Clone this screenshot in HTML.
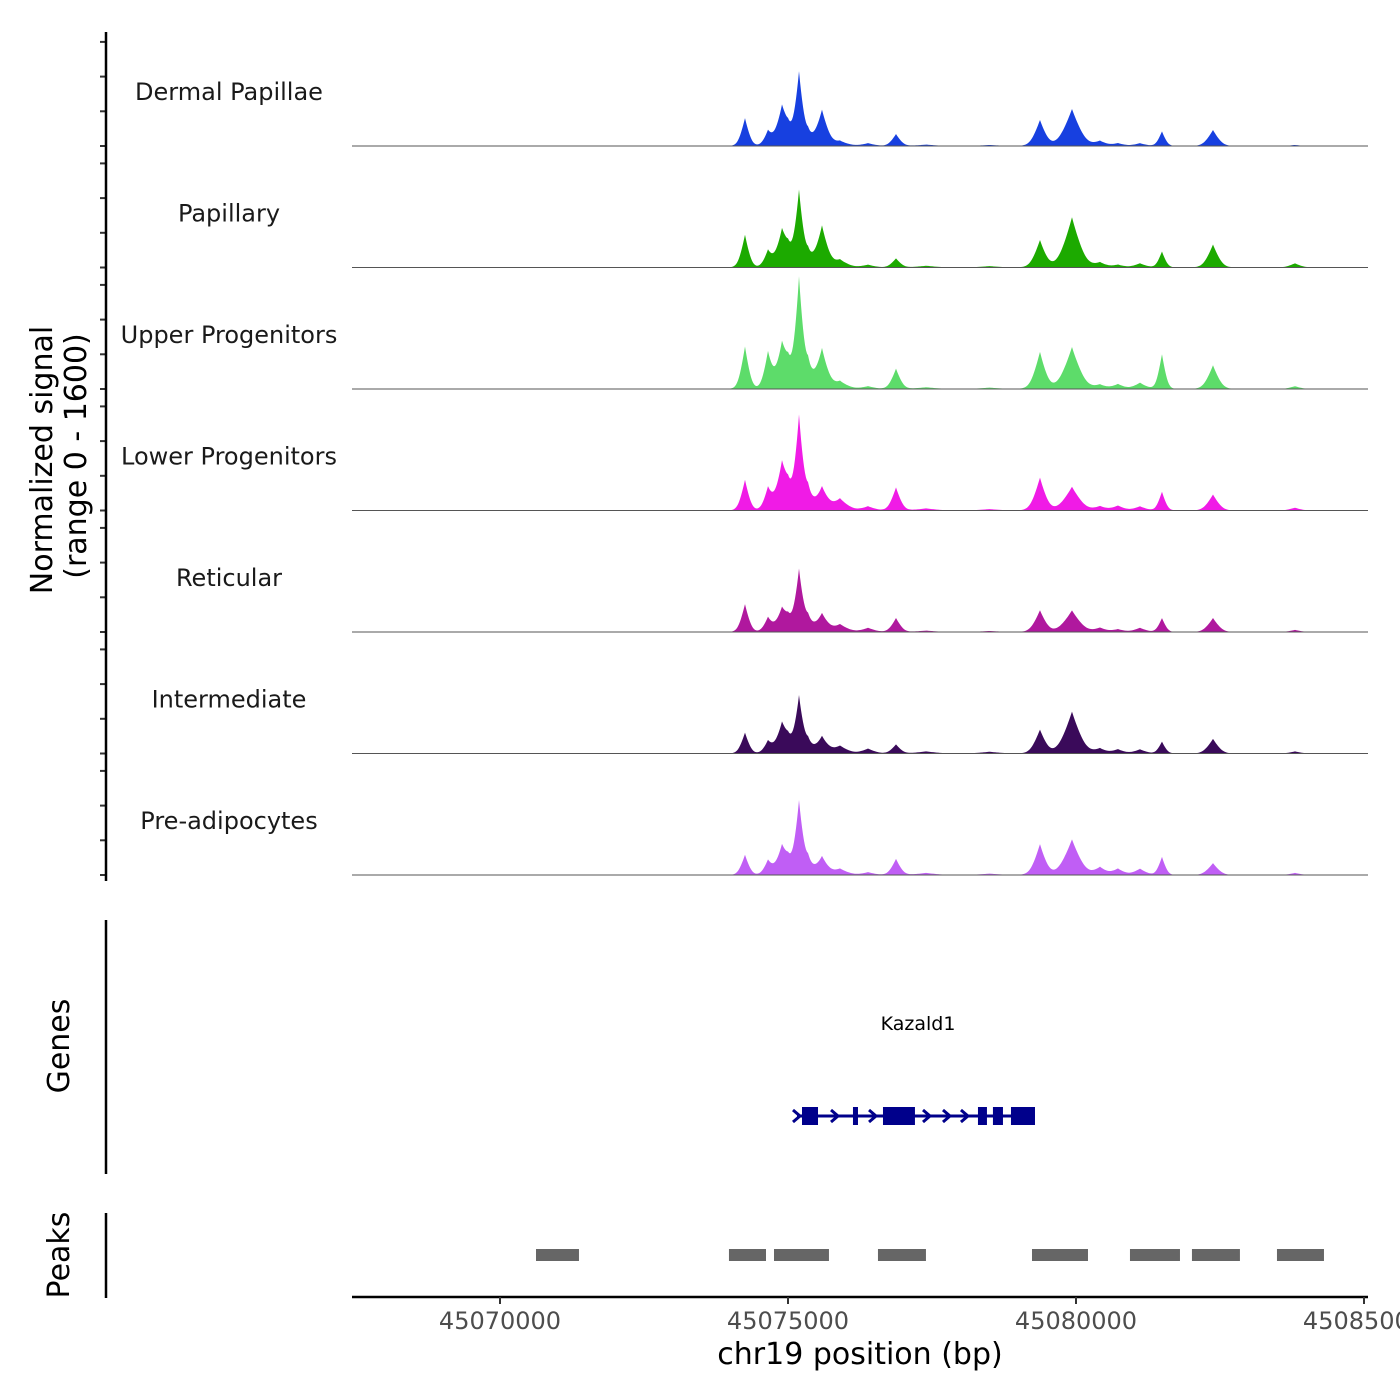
<!DOCTYPE html>
<html><head><meta charset="utf-8"><style>
html,body{margin:0;padding:0;background:#fff;width:1400px;height:1400px;overflow:hidden}
svg{display:block}
text{font-family:"DejaVu Sans","Liberation Sans",sans-serif}
</style></head><body>
<svg id="chart" width="1400" height="1400" viewBox="0 0 1400 1400" xmlns="http://www.w3.org/2000/svg">
<g id="tracks"></g>
<g id="leftaxis"></g>
<text transform="translate(52,460) rotate(-90)" text-anchor="middle" font-size="30" fill="#000">Normalized signal</text>
<text transform="translate(86,456) rotate(-90)" text-anchor="middle" font-size="30" fill="#000">(range 0 - 1600)</text>
<line x1="106" y1="920" x2="106" y2="1174" stroke="#000" stroke-width="2.5"/>
<text transform="translate(69,1046) rotate(-90)" text-anchor="middle" font-size="30" fill="#000">Genes</text>
<line x1="106" y1="1213" x2="106" y2="1298" stroke="#000" stroke-width="2.5"/>
<text transform="translate(69,1255) rotate(-90)" text-anchor="middle" font-size="30" fill="#000">Peaks</text>
<g id="gene"></g>
<text x="918" y="1030" text-anchor="middle" font-size="19" fill="#000">Kazald1</text>
<g id="peaks"></g>
<g id="xaxis"></g>
<text x="860" y="1364" text-anchor="middle" font-size="30" fill="#000">chr19 position (bp)</text>
</svg>
<script>
const trackNames = ["Dermal Papillae","Papillary","Upper Progenitors","Lower Progenitors","Reticular","Intermediate","Pre-adipocytes"];
const trackColors = ["#1740e0","#1caa00","#5ddc6a","#f01be6","#b0189e","#3a0a5a","#c05ef5"];
const peakCenters = [45074253,45074652,45074896,45075191,45075590,45075902,45076389,45076875,45079374,45079930,45080416,45080728,45081110,45081492,45082378,45083801,45077400,45078500,45075000,45075350];
const peakWidths = [160,160,220,160,220,300,260,180,220,320,240,240,240,140,220,220,400,400,200,180];
const sigDermal = [400,200,540,1020,510,70,40,170,370,530,70,40,40,210,230,15,20,15,120,150];
const sigPapillary = [470,230,500,1060,590,110,40,130,390,720,70,40,60,230,330,60,25,20,150,170];
const sigUpper = [610,510,600,1530,570,110,40,290,530,600,60,70,90,500,340,40,25,20,200,300];
const sigLower = [440,310,640,1300,330,170,60,330,470,340,60,70,60,270,230,40,30,20,180,260];
const sigReticular = [400,200,310,860,260,110,60,200,310,310,60,40,60,200,200,30,20,15,120,180];
const sigIntermediate = [300,170,410,790,240,110,70,130,340,600,70,60,60,170,210,30,30,25,110,160];
const sigPre = [290,200,390,1020,260,90,40,230,440,510,110,90,90,260,170,30,30,20,120,200];
const signals = [sigDermal,sigPapillary,sigUpper,sigLower,sigReticular,sigIntermediate,sigPre];
const xTicks = [45070000,45075000,45080000,45085000];
const peakStarts = [45070625,45073975,45074757,45076562,45079236,45080937,45082013,45083489];
const peakEnds = [45071371,45074618,45075711,45077395,45080208,45081805,45082846,45084305];
const exonStarts = [45075243,45076128,45076649,45078298,45078558,45078871];
const exonEnds = [45075521,45076215,45077204,45078454,45078732,45079288];
const geneStart = 45075156, geneEnd = 45079288;
const strandArrows = [45075816,45076476,45077413,45077760,45078072];

const NS="http://www.w3.org/2000/svg";
const X0=352,X1=1368;
function xs(bp){return 500+(bp-45070000)*0.0576;}
function mk(tag,attrs,parent){const e=document.createElementNS(NS,tag);for(const k in attrs)e.setAttribute(k,attrs[k]);parent.appendChild(e);return e;}
const gT=document.getElementById('tracks');
const gL=document.getElementById('leftaxis');
const trackH=121.5, base0=146, maxV=1600, maxPx=112;
function ys(v,b){return b-v/maxV*maxPx;}
signals.forEach((sig,t)=>{
  const b=base0+t*trackH;
  let d=`M${X0},${b}`;
  for(let x=X0;x<=X1;x+=1){
    const bp=45070000+(x-500)/0.0576;
    let v=0;
    for(let i=0;i<peakCenters.length;i++){
      const dd=Math.abs(bp-peakCenters[i])/peakWidths[i];
      v+=sig[i]*(0.55*Math.exp(-dd*2.6)+0.45*Math.exp(-dd*dd*2.2));
    }
    d+=`L${x},${ys(v,b).toFixed(2)}`;
  }
  d+=`L${X1},${b}Z`;
  const p=mk('path',{d:d,fill:trackColors[t]},gT);
  
  
  const bl=mk('line',{x1:X0,y1:b,x2:X1,y2:b,stroke:'#555',"stroke-width":1},gT);
  
  
  const lb=mk('text',{x:229,y:b-46,"text-anchor":"middle","font-size":24,fill:"#1a1a1a"},gT);
  lb.textContent=trackNames[t];
  
  
  for(let k=0;k<4;k++){
    const ty=b-k*34.7;
    const tk=mk('line',{x1:100,y1:ty,x2:106,y2:ty,stroke:'#333',"stroke-width":2},gL);
    
    
  }
});
const ya=mk('line',{x1:106,y1:32,x2:106,y2:881,stroke:'#000',"stroke-width":2.5},gL);



// gene
const gG=document.getElementById('gene');
const gy=1116, col='#00008b';
const gl=mk('line',{x1:xs(geneStart),y1:gy,x2:xs(geneEnd),y2:gy,stroke:col,"stroke-width":3},gG);


for(let i=0;i<exonStarts.length;i++){
  const r=mk('rect',{x:xs(exonStarts[i]),y:gy-9,width:xs(exonEnds[i])-xs(exonStarts[i]),height:18,fill:col},gG);
  
  
}
[geneStart].concat(strandArrows).forEach(a=>{
  const x=xs(a);
  const ar=mk('path',{d:`M${x-4},${gy-6}L${x+3},${gy}L${x-4},${gy+6}`,stroke:col,"stroke-width":3,fill:'none'},gG);
  
  
});

// peaks
const gP=document.getElementById('peaks');
for(let i=0;i<peakStarts.length;i++){
  const r=mk('rect',{x:xs(peakStarts[i]),y:1249,width:xs(peakEnds[i])-xs(peakStarts[i]),height:12,fill:'#666'},gP);
  
  
}

// x axis
const gX=document.getElementById('xaxis');
const xl=mk('line',{x1:X0,y1:1297,x2:X1,y2:1297,stroke:'#000',"stroke-width":2.5},gX);


xTicks.forEach(t=>{
  const x=xs(t);
  const tk=mk('line',{x1:x,y1:1297,x2:x,y2:1304,stroke:'#333',"stroke-width":2},gX);
  
  
  const tl=mk('text',{x:x,y:1329,"text-anchor":"middle","font-size":24,fill:"#4d4d4d"},gX);
  tl.textContent=String(t);
  
  
});
</script>
</body></html>
